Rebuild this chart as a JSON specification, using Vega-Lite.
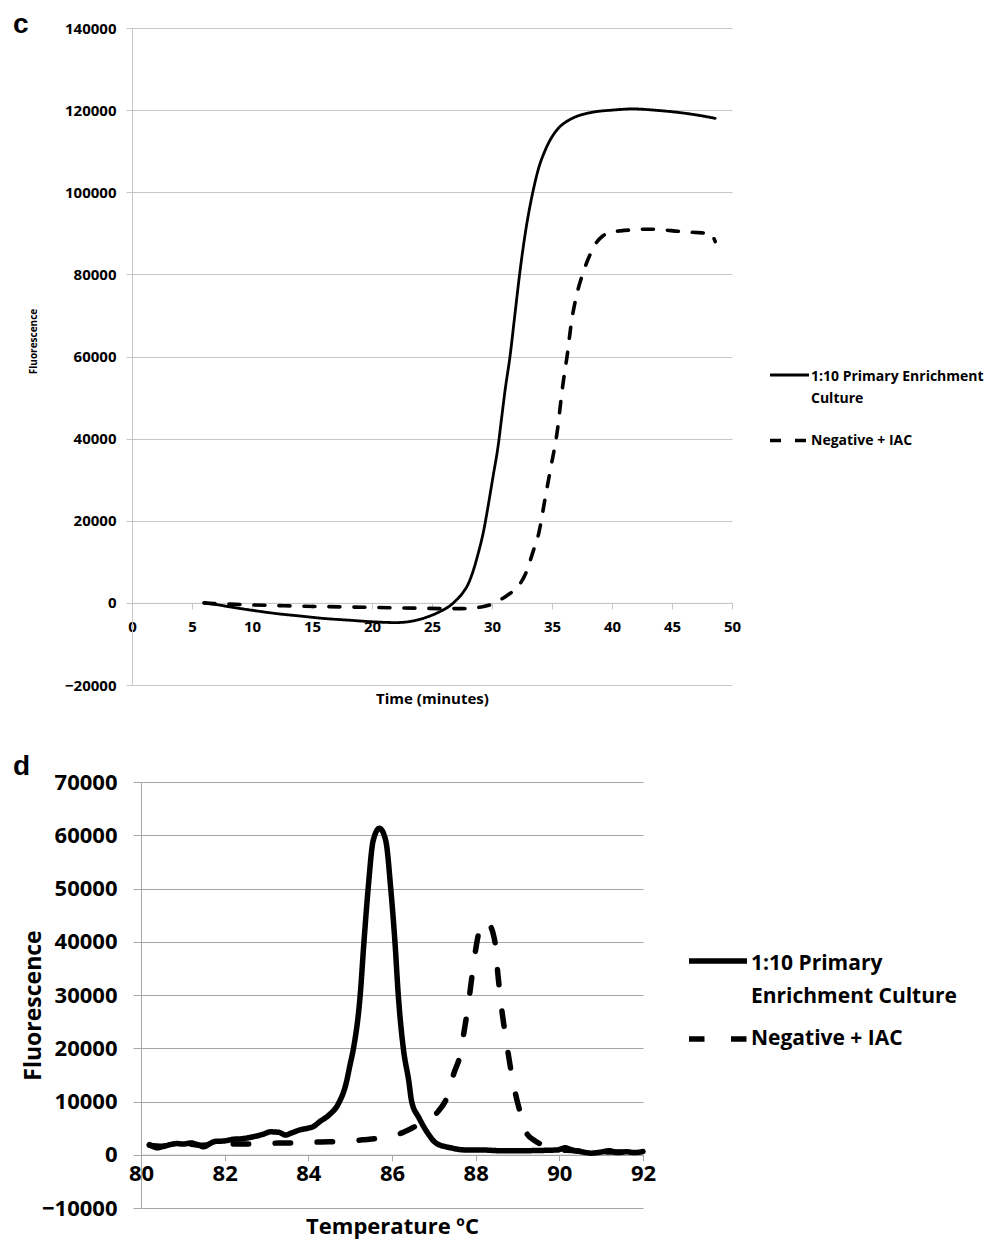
{
  "$schema": "https://vega.github.io/schema/vega-lite/v6.json",
  "background": "white",
  "padding": {"left": 13, "top": 10, "right": 0, "bottom": 8},
  "config": {
    "view": {"stroke": null},
    "axis": {"labelFont": "Open Sans", "labelFontWeight": "bold", "labelColor": "#000", "titleFont": "Open Sans", "titleFontWeight": "bold", "titleColor": "#000", "labelFlush": false, "labelOverlap": false},
    "legend": {"labelFont": "Open Sans", "labelFontWeight": "bold", "labelColor": "#000"},
    "title": {"font": "Liberation Sans", "fontWeight": "bold", "color": "#000", "anchor": "start", "frame": "group", "baseline": "alphabetic"}
  },
  "columns": 1,
  "spacing": 46,
  "resolve": {"scale": {"strokeDash": "independent", "strokeWidth": "independent"}, "legend": {"strokeDash": "independent"}},
  "datasets": {
    "c": [
      {"time": 6, "fluorescence": 0, "series": "1:10 Primary Enrichment Culture"},
      {"time": 7, "fluorescence": -400, "series": "1:10 Primary Enrichment Culture"},
      {"time": 8, "fluorescence": -900, "series": "1:10 Primary Enrichment Culture"},
      {"time": 10, "fluorescence": -1800, "series": "1:10 Primary Enrichment Culture"},
      {"time": 12, "fluorescence": -2600, "series": "1:10 Primary Enrichment Culture"},
      {"time": 14, "fluorescence": -3200, "series": "1:10 Primary Enrichment Culture"},
      {"time": 16, "fluorescence": -3800, "series": "1:10 Primary Enrichment Culture"},
      {"time": 18, "fluorescence": -4200, "series": "1:10 Primary Enrichment Culture"},
      {"time": 20, "fluorescence": -4600, "series": "1:10 Primary Enrichment Culture"},
      {"time": 22, "fluorescence": -4800, "series": "1:10 Primary Enrichment Culture"},
      {"time": 23, "fluorescence": -4600, "series": "1:10 Primary Enrichment Culture"},
      {"time": 24, "fluorescence": -4000, "series": "1:10 Primary Enrichment Culture"},
      {"time": 25, "fluorescence": -3000, "series": "1:10 Primary Enrichment Culture"},
      {"time": 26, "fluorescence": -1600, "series": "1:10 Primary Enrichment Culture"},
      {"time": 26.5, "fluorescence": -700, "series": "1:10 Primary Enrichment Culture"},
      {"time": 27, "fluorescence": 600, "series": "1:10 Primary Enrichment Culture"},
      {"time": 27.6, "fluorescence": 2600, "series": "1:10 Primary Enrichment Culture"},
      {"time": 28, "fluorescence": 4500, "series": "1:10 Primary Enrichment Culture"},
      {"time": 28.4, "fluorescence": 7500, "series": "1:10 Primary Enrichment Culture"},
      {"time": 28.8, "fluorescence": 11500, "series": "1:10 Primary Enrichment Culture"},
      {"time": 29.3, "fluorescence": 17500, "series": "1:10 Primary Enrichment Culture"},
      {"time": 29.7, "fluorescence": 24000, "series": "1:10 Primary Enrichment Culture"},
      {"time": 30.1, "fluorescence": 31000, "series": "1:10 Primary Enrichment Culture"},
      {"time": 30.5, "fluorescence": 38000, "series": "1:10 Primary Enrichment Culture"},
      {"time": 30.8, "fluorescence": 45000, "series": "1:10 Primary Enrichment Culture"},
      {"time": 31.1, "fluorescence": 52000, "series": "1:10 Primary Enrichment Culture"},
      {"time": 31.5, "fluorescence": 60000, "series": "1:10 Primary Enrichment Culture"},
      {"time": 31.9, "fluorescence": 70000, "series": "1:10 Primary Enrichment Culture"},
      {"time": 32.3, "fluorescence": 80000, "series": "1:10 Primary Enrichment Culture"},
      {"time": 32.8, "fluorescence": 90500, "series": "1:10 Primary Enrichment Culture"},
      {"time": 33.4, "fluorescence": 100000, "series": "1:10 Primary Enrichment Culture"},
      {"time": 33.9, "fluorescence": 106000, "series": "1:10 Primary Enrichment Culture"},
      {"time": 34.4, "fluorescence": 110000, "series": "1:10 Primary Enrichment Culture"},
      {"time": 35, "fluorescence": 113500, "series": "1:10 Primary Enrichment Culture"},
      {"time": 35.6, "fluorescence": 115800, "series": "1:10 Primary Enrichment Culture"},
      {"time": 36.2, "fluorescence": 117200, "series": "1:10 Primary Enrichment Culture"},
      {"time": 37, "fluorescence": 118400, "series": "1:10 Primary Enrichment Culture"},
      {"time": 38.4, "fluorescence": 119500, "series": "1:10 Primary Enrichment Culture"},
      {"time": 40, "fluorescence": 120000, "series": "1:10 Primary Enrichment Culture"},
      {"time": 41.75, "fluorescence": 120300, "series": "1:10 Primary Enrichment Culture"},
      {"time": 43.5, "fluorescence": 120000, "series": "1:10 Primary Enrichment Culture"},
      {"time": 45.9, "fluorescence": 119300, "series": "1:10 Primary Enrichment Culture"},
      {"time": 47.5, "fluorescence": 118600, "series": "1:10 Primary Enrichment Culture"},
      {"time": 48.6, "fluorescence": 118000, "series": "1:10 Primary Enrichment Culture"},
      {"time": 6, "fluorescence": 0, "series": "Negative + IAC"},
      {"time": 7, "fluorescence": -200, "series": "Negative + IAC"},
      {"time": 8, "fluorescence": -300, "series": "Negative + IAC"},
      {"time": 10, "fluorescence": -500, "series": "Negative + IAC"},
      {"time": 12, "fluorescence": -650, "series": "Negative + IAC"},
      {"time": 14, "fluorescence": -800, "series": "Negative + IAC"},
      {"time": 16, "fluorescence": -900, "series": "Negative + IAC"},
      {"time": 18, "fluorescence": -1000, "series": "Negative + IAC"},
      {"time": 20, "fluorescence": -1100, "series": "Negative + IAC"},
      {"time": 22, "fluorescence": -1200, "series": "Negative + IAC"},
      {"time": 24, "fluorescence": -1300, "series": "Negative + IAC"},
      {"time": 26, "fluorescence": -1400, "series": "Negative + IAC"},
      {"time": 27.5, "fluorescence": -1400, "series": "Negative + IAC"},
      {"time": 28.5, "fluorescence": -1200, "series": "Negative + IAC"},
      {"time": 29.3, "fluorescence": -900, "series": "Negative + IAC"},
      {"time": 30, "fluorescence": -300, "series": "Negative + IAC"},
      {"time": 30.6, "fluorescence": 600, "series": "Negative + IAC"},
      {"time": 31.2, "fluorescence": 1700, "series": "Negative + IAC"},
      {"time": 31.8, "fluorescence": 3000, "series": "Negative + IAC"},
      {"time": 32.3, "fluorescence": 4500, "series": "Negative + IAC"},
      {"time": 32.9, "fluorescence": 7800, "series": "Negative + IAC"},
      {"time": 33.4, "fluorescence": 12300, "series": "Negative + IAC"},
      {"time": 33.9, "fluorescence": 17000, "series": "Negative + IAC"},
      {"time": 34.4, "fluorescence": 25000, "series": "Negative + IAC"},
      {"time": 34.9, "fluorescence": 33000, "series": "Negative + IAC"},
      {"time": 35.4, "fluorescence": 41000, "series": "Negative + IAC"},
      {"time": 35.9, "fluorescence": 53000, "series": "Negative + IAC"},
      {"time": 36.3, "fluorescence": 61000, "series": "Negative + IAC"},
      {"time": 36.6, "fluorescence": 68000, "series": "Negative + IAC"},
      {"time": 37.1, "fluorescence": 75500, "series": "Negative + IAC"},
      {"time": 37.6, "fluorescence": 80500, "series": "Negative + IAC"},
      {"time": 38.2, "fluorescence": 85000, "series": "Negative + IAC"},
      {"time": 38.6, "fluorescence": 87300, "series": "Negative + IAC"},
      {"time": 39.25, "fluorescence": 89400, "series": "Negative + IAC"},
      {"time": 40, "fluorescence": 90300, "series": "Negative + IAC"},
      {"time": 40.7, "fluorescence": 90600, "series": "Negative + IAC"},
      {"time": 43.2, "fluorescence": 91000, "series": "Negative + IAC"},
      {"time": 45.9, "fluorescence": 90400, "series": "Negative + IAC"},
      {"time": 47.5, "fluorescence": 90100, "series": "Negative + IAC"},
      {"time": 48.2, "fluorescence": 90000, "series": "Negative + IAC"},
      {"time": 48.6, "fluorescence": 88000, "series": "Negative + IAC"}
    ],
    "d": [
      {"temperature": 80.2, "fluorescence": 1900, "series": "1:10 Primary Enrichment Culture"},
      {"temperature": 80.3, "fluorescence": 1500, "series": "1:10 Primary Enrichment Culture"},
      {"temperature": 80.4, "fluorescence": 1300, "series": "1:10 Primary Enrichment Culture"},
      {"temperature": 80.5, "fluorescence": 1500, "series": "1:10 Primary Enrichment Culture"},
      {"temperature": 80.7, "fluorescence": 1900, "series": "1:10 Primary Enrichment Culture"},
      {"temperature": 80.86, "fluorescence": 2100, "series": "1:10 Primary Enrichment Culture"},
      {"temperature": 81.0, "fluorescence": 2000, "series": "1:10 Primary Enrichment Culture"},
      {"temperature": 81.2, "fluorescence": 2200, "series": "1:10 Primary Enrichment Culture"},
      {"temperature": 81.35, "fluorescence": 1900, "series": "1:10 Primary Enrichment Culture"},
      {"temperature": 81.5, "fluorescence": 1500, "series": "1:10 Primary Enrichment Culture"},
      {"temperature": 81.65, "fluorescence": 2100, "series": "1:10 Primary Enrichment Culture"},
      {"temperature": 81.77, "fluorescence": 2500, "series": "1:10 Primary Enrichment Culture"},
      {"temperature": 82.0, "fluorescence": 2600, "series": "1:10 Primary Enrichment Culture"},
      {"temperature": 82.2, "fluorescence": 2900, "series": "1:10 Primary Enrichment Culture"},
      {"temperature": 82.4, "fluorescence": 3000, "series": "1:10 Primary Enrichment Culture"},
      {"temperature": 82.7, "fluorescence": 3400, "series": "1:10 Primary Enrichment Culture"},
      {"temperature": 82.9, "fluorescence": 3800, "series": "1:10 Primary Enrichment Culture"},
      {"temperature": 83.1, "fluorescence": 4300, "series": "1:10 Primary Enrichment Culture"},
      {"temperature": 83.3, "fluorescence": 4200, "series": "1:10 Primary Enrichment Culture"},
      {"temperature": 83.45, "fluorescence": 3700, "series": "1:10 Primary Enrichment Culture"},
      {"temperature": 83.6, "fluorescence": 4100, "series": "1:10 Primary Enrichment Culture"},
      {"temperature": 83.77, "fluorescence": 4600, "series": "1:10 Primary Enrichment Culture"},
      {"temperature": 84.0, "fluorescence": 5000, "series": "1:10 Primary Enrichment Culture"},
      {"temperature": 84.1, "fluorescence": 5200, "series": "1:10 Primary Enrichment Culture"},
      {"temperature": 84.27, "fluorescence": 6200, "series": "1:10 Primary Enrichment Culture"},
      {"temperature": 84.5, "fluorescence": 7500, "series": "1:10 Primary Enrichment Culture"},
      {"temperature": 84.72, "fluorescence": 9600, "series": "1:10 Primary Enrichment Culture"},
      {"temperature": 84.9, "fluorescence": 13300, "series": "1:10 Primary Enrichment Culture"},
      {"temperature": 85.0, "fluorescence": 17000, "series": "1:10 Primary Enrichment Culture"},
      {"temperature": 85.08, "fluorescence": 20000, "series": "1:10 Primary Enrichment Culture"},
      {"temperature": 85.24, "fluorescence": 30000, "series": "1:10 Primary Enrichment Culture"},
      {"temperature": 85.33, "fluorescence": 40000, "series": "1:10 Primary Enrichment Culture"},
      {"temperature": 85.43, "fluorescence": 50000, "series": "1:10 Primary Enrichment Culture"},
      {"temperature": 85.55, "fluorescence": 59000, "series": "1:10 Primary Enrichment Culture"},
      {"temperature": 85.7, "fluorescence": 61300, "series": "1:10 Primary Enrichment Culture"},
      {"temperature": 85.85, "fluorescence": 59000, "series": "1:10 Primary Enrichment Culture"},
      {"temperature": 85.97, "fluorescence": 50000, "series": "1:10 Primary Enrichment Culture"},
      {"temperature": 86.07, "fluorescence": 40000, "series": "1:10 Primary Enrichment Culture"},
      {"temperature": 86.15, "fluorescence": 30000, "series": "1:10 Primary Enrichment Culture"},
      {"temperature": 86.27, "fluorescence": 20000, "series": "1:10 Primary Enrichment Culture"},
      {"temperature": 86.4, "fluorescence": 13900, "series": "1:10 Primary Enrichment Culture"},
      {"temperature": 86.47, "fluorescence": 10000, "series": "1:10 Primary Enrichment Culture"},
      {"temperature": 86.64, "fluorescence": 7000, "series": "1:10 Primary Enrichment Culture"},
      {"temperature": 86.86, "fluorescence": 4000, "series": "1:10 Primary Enrichment Culture"},
      {"temperature": 87.05, "fluorescence": 2200, "series": "1:10 Primary Enrichment Culture"},
      {"temperature": 87.4, "fluorescence": 1300, "series": "1:10 Primary Enrichment Culture"},
      {"temperature": 87.77, "fluorescence": 900, "series": "1:10 Primary Enrichment Culture"},
      {"temperature": 88.14, "fluorescence": 900, "series": "1:10 Primary Enrichment Culture"},
      {"temperature": 88.6, "fluorescence": 750, "series": "1:10 Primary Enrichment Culture"},
      {"temperature": 89.05, "fluorescence": 750, "series": "1:10 Primary Enrichment Culture"},
      {"temperature": 89.5, "fluorescence": 800, "series": "1:10 Primary Enrichment Culture"},
      {"temperature": 89.95, "fluorescence": 900, "series": "1:10 Primary Enrichment Culture"},
      {"temperature": 90.14, "fluorescence": 1300, "series": "1:10 Primary Enrichment Culture"},
      {"temperature": 90.3, "fluorescence": 900, "series": "1:10 Primary Enrichment Culture"},
      {"temperature": 90.5, "fluorescence": 600, "series": "1:10 Primary Enrichment Culture"},
      {"temperature": 90.77, "fluorescence": 300, "series": "1:10 Primary Enrichment Culture"},
      {"temperature": 91.0, "fluorescence": 500, "series": "1:10 Primary Enrichment Culture"},
      {"temperature": 91.2, "fluorescence": 750, "series": "1:10 Primary Enrichment Culture"},
      {"temperature": 91.4, "fluorescence": 400, "series": "1:10 Primary Enrichment Culture"},
      {"temperature": 91.6, "fluorescence": 550, "series": "1:10 Primary Enrichment Culture"},
      {"temperature": 91.8, "fluorescence": 400, "series": "1:10 Primary Enrichment Culture"},
      {"temperature": 92.0, "fluorescence": 600, "series": "1:10 Primary Enrichment Culture"},
      {"temperature": 80.2, "fluorescence": 1800, "series": "Negative + IAC"},
      {"temperature": 80.5, "fluorescence": 1600, "series": "Negative + IAC"},
      {"temperature": 80.8, "fluorescence": 1900, "series": "Negative + IAC"},
      {"temperature": 81.1, "fluorescence": 2000, "series": "Negative + IAC"},
      {"temperature": 81.4, "fluorescence": 1800, "series": "Negative + IAC"},
      {"temperature": 81.7, "fluorescence": 1900, "series": "Negative + IAC"},
      {"temperature": 82.0, "fluorescence": 2000, "series": "Negative + IAC"},
      {"temperature": 82.3, "fluorescence": 2000, "series": "Negative + IAC"},
      {"temperature": 82.7, "fluorescence": 2000, "series": "Negative + IAC"},
      {"temperature": 83.0, "fluorescence": 2100, "series": "Negative + IAC"},
      {"temperature": 83.3, "fluorescence": 2200, "series": "Negative + IAC"},
      {"temperature": 83.7, "fluorescence": 2200, "series": "Negative + IAC"},
      {"temperature": 84.0, "fluorescence": 2300, "series": "Negative + IAC"},
      {"temperature": 84.3, "fluorescence": 2400, "series": "Negative + IAC"},
      {"temperature": 84.7, "fluorescence": 2450, "series": "Negative + IAC"},
      {"temperature": 85.0, "fluorescence": 2600, "series": "Negative + IAC"},
      {"temperature": 85.3, "fluorescence": 2800, "series": "Negative + IAC"},
      {"temperature": 85.7, "fluorescence": 3100, "series": "Negative + IAC"},
      {"temperature": 86.0, "fluorescence": 3500, "series": "Negative + IAC"},
      {"temperature": 86.2, "fluorescence": 4000, "series": "Negative + IAC"},
      {"temperature": 86.6, "fluorescence": 5500, "series": "Negative + IAC"},
      {"temperature": 86.9, "fluorescence": 6700, "series": "Negative + IAC"},
      {"temperature": 87.1, "fluorescence": 8100, "series": "Negative + IAC"},
      {"temperature": 87.34, "fluorescence": 11300, "series": "Negative + IAC"},
      {"temperature": 87.48, "fluorescence": 15300, "series": "Negative + IAC"},
      {"temperature": 87.63, "fluorescence": 18800, "series": "Negative + IAC"},
      {"temperature": 87.72, "fluorescence": 23000, "series": "Negative + IAC"},
      {"temperature": 87.82, "fluorescence": 28000, "series": "Negative + IAC"},
      {"temperature": 87.92, "fluorescence": 34000, "series": "Negative + IAC"},
      {"temperature": 88.02, "fluorescence": 39500, "series": "Negative + IAC"},
      {"temperature": 88.1, "fluorescence": 42500, "series": "Negative + IAC"},
      {"temperature": 88.2, "fluorescence": 43800, "series": "Negative + IAC"},
      {"temperature": 88.3, "fluorescence": 43500, "series": "Negative + IAC"},
      {"temperature": 88.46, "fluorescence": 40000, "series": "Negative + IAC"},
      {"temperature": 88.53, "fluorescence": 34000, "series": "Negative + IAC"},
      {"temperature": 88.62, "fluorescence": 27500, "series": "Negative + IAC"},
      {"temperature": 88.72, "fluorescence": 22000, "series": "Negative + IAC"},
      {"temperature": 88.84, "fluorescence": 16000, "series": "Negative + IAC"},
      {"temperature": 88.98, "fluorescence": 10500, "series": "Negative + IAC"},
      {"temperature": 89.1, "fluorescence": 7000, "series": "Negative + IAC"},
      {"temperature": 89.2, "fluorescence": 4300, "series": "Negative + IAC"},
      {"temperature": 89.4, "fluorescence": 2700, "series": "Negative + IAC"},
      {"temperature": 89.6, "fluorescence": 1850, "series": "Negative + IAC"},
      {"temperature": 89.8, "fluorescence": 1200, "series": "Negative + IAC"},
      {"temperature": 90.0, "fluorescence": 900, "series": "Negative + IAC"},
      {"temperature": 90.3, "fluorescence": 800, "series": "Negative + IAC"},
      {"temperature": 90.6, "fluorescence": 600, "series": "Negative + IAC"},
      {"temperature": 91.0, "fluorescence": 500, "series": "Negative + IAC"},
      {"temperature": 91.5, "fluorescence": 500, "series": "Negative + IAC"},
      {"temperature": 92.0, "fluorescence": 500, "series": "Negative + IAC"}
    ]
  },
  "concat": [
    {
      "width": 600,
      "height": 657,
      "title": {"text": "c", "fontSize": 28, "dx": -119, "offset": -17.5},
      "data": {"name": "c"},
      "mark": {"type": "line", "interpolate": "monotone", "color": "black", "strokeJoin": "round", "strokeCap": "round"},
      "encoding": {
        "x": {"field": "time", "type": "quantitative", "scale": {"domain": [0, 50], "nice": false},
          "axis": {"values": [0, 5, 10, 15, 20, 25, 30, 35, 40, 45, 50], "offset": -82.125, "grid": false, "domainColor": "#c6c6c6", "tickColor": "#c6c6c6", "tickSize": 6, "labelFontSize": 15, "labelPadding": 11, "title": "Time (minutes)", "titleFontSize": 15, "titleY": 96, "titleBaseline": "middle"}},
        "y": {"field": "fluorescence", "type": "quantitative", "scale": {"domain": [-20000, 140000], "nice": false},
          "axis": {"values": [-20000, 0, 20000, 40000, 60000, 80000, 100000, 120000, 140000], "format": "d", "grid": true, "gridColor": "#c6c6c6", "domainColor": "#c6c6c6", "tickColor": "#c6c6c6", "tickSize": 6, "labelFontSize": 15, "labelPadding": 10, "title": "Fluorescence", "titleFontSize": 10, "titleX": -99, "titleY": 313, "titleBaseline": "middle"}},
        "strokeDash": {"field": "series", "type": "nominal", "scale": {"domain": ["1:10 Primary Enrichment Culture", "Negative + IAC"], "range": [[1, 0], [11, 14]]},
          "legend": {"title": null, "orient": "none", "legendX": 636, "legendY": 326, "padding": 0, "rowPadding": 13, "symbolType": "stroke", "symbolSize": 1521, "symbolStrokeWidth": 3, "symbolStrokeColor": "black", "labelFontSize": 14, "labelLimit": 400, "labelOffset": 0,
            "labelExpr": "datum.label == '1:10 Primary Enrichment Culture' ? ['1:10 Primary Enrichment', 'Culture'] : datum.label",
            "encode": {"labels": {"update": {"lineHeight": {"value": 22}, "dy": {"signal": "datum.label == '1:10 Primary Enrichment Culture' ? 2 : 0"}}}}}},
        "strokeWidth": {"field": "series", "type": "nominal", "scale": {"domain": ["1:10 Primary Enrichment Culture", "Negative + IAC"], "range": [2.8, 3.6]}, "legend": null}
      }
    },
    {
      "width": 511,
      "height": 426,
      "title": {"text": "d", "fontSize": 28, "dx": -119, "offset": -10},
      "data": {"name": "d"},
      "mark": {"type": "line", "interpolate": "monotone", "color": "black", "strokeJoin": "round", "strokeCap": "round"},
      "encoding": {
        "x": {"field": "temperature", "type": "quantitative", "scale": {"domain": [80, 92], "nice": false, "range": [9, 511]},
          "axis": {"values": [80, 82, 84, 86, 88, 90, 92], "offset": -53.25, "grid": false, "domainColor": "#a6a6a6", "tickColor": "#a6a6a6", "tickSize": 6, "labelFontSize": 22, "labelPadding": 3, "title": "Temperature ºC", "titleFontSize": 22, "titleY": 72, "titleBaseline": "middle"}},
        "y": {"field": "fluorescence", "type": "quantitative", "scale": {"domain": [-10000, 70000], "nice": false},
          "axis": {"values": [-10000, 0, 10000, 20000, 30000, 40000, 50000, 60000, 70000], "format": "d", "offset": -9, "grid": true, "gridColor": "#a6a6a6", "domainColor": "#a6a6a6", "tickColor": "#a6a6a6", "tickSize": 8, "labelFontSize": 22, "labelPadding": 16, "title": "Fluorescence", "titleFontSize": 23, "titleX": -108, "titleY": 223, "titleBaseline": "middle"}},
        "strokeDash": {"field": "series", "type": "nominal", "scale": {"domain": ["1:10 Primary Enrichment Culture", "Negative + IAC"], "range": [[1, 0], [15.5, 26.5]]},
          "legend": {"title": null, "orient": "none", "legendX": 554, "legendY": 147, "padding": 0, "rowPadding": -5, "symbolType": "stroke", "symbolSize": 3364, "symbolStrokeWidth": 6, "symbolStrokeColor": "black", "labelFontSize": 21, "labelLimit": 400, "labelOffset": 1,
            "labelExpr": "datum.label == '1:10 Primary Enrichment Culture' ? ['1:10 Primary', 'Enrichment Culture'] : datum.label",
            "encode": {"labels": {"update": {"lineHeight": {"value": 33}, "dy": {"signal": "datum.label == '1:10 Primary Enrichment Culture' ? 3 : 0"}}}}}},
        "strokeWidth": {"field": "series", "type": "nominal", "scale": {"domain": ["1:10 Primary Enrichment Culture", "Negative + IAC"], "range": [5.5, 5.5]}, "legend": null}
      }
    }
  ]
}
